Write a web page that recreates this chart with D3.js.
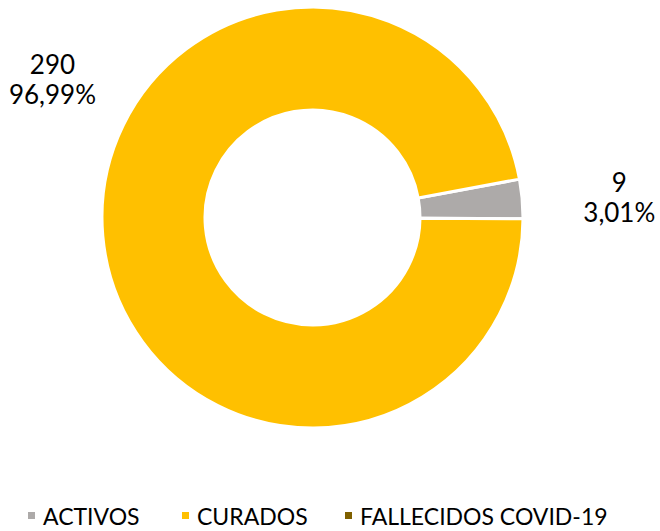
<!DOCTYPE html>
<html lang="es">
<head>
<meta charset="UTF-8">
<title>Casos COVID-19</title>
<script src="https://cdn.jsdelivr.net/npm/d3@7"></script>
<style>
    body { margin: 0; background: #fff; }
    #grafico { width: 660px; height: 531px; }
    .etiqueta { font-family: Lato, 'Open Sans', sans-serif; font-size: 26px; fill: #000; }
    .leyenda { font-family: Lato, 'Open Sans', sans-serif; font-size: 23px; fill: #000; }
</style>
</head>
<body>
<div id="grafico"></div>
<script>
var categorias = ["ACTIVOS", "CURADOS", "FALLECIDOS COVID-19"];
var valores = [9, 290, 0];
var colores = ["#ADAAA9", "#FFC000", "#7F6000"];

var w = 660, h = 531;
var cx = 312.5, cy = 217.5;
var rOut = 210.5, rIn = 107.5;
var anguloInicio = 79.5 * Math.PI / 180;

var total = d3.sum(valores);
var formato = function (v) {
    return d3.format(".2f")(v / total * 100).replace(".", ",") + "%";
};

var svg = d3.select("#grafico").append("svg")
    .attr("width", w)
    .attr("height", h);

var pie = d3.pie()
    .sort(null)
    .value(function (d) { return d; })
    .startAngle(anguloInicio)
    .endAngle(anguloInicio + 2 * Math.PI);

var arco = d3.arc().innerRadius(rIn).outerRadius(rOut);

var g = svg.append("g").attr("transform", "translate(" + cx + "," + cy + ")");

var datos = pie(valores);

g.selectAll("path")
    .data(datos.filter(function (d) { return d.value > 0; }))
    .enter()
    .append("path")
    .attr("d", arco)
    .attr("fill", function (d) { return colores[d.index]; })
    .attr("stroke", "#fff")
    .attr("stroke-width", 3);

// posiciones de etiquetas (Excel mueve la de CURADOS arriba a la izquierda)
var anguloEtiqueta = [null, -62.2 * Math.PI / 180, null];
var radioEtiqueta = [308, 294, null];
var ajusteY = [2, -6, 0];

datos.forEach(function (d, i) {
    if (d.value <= 0) return;
    var a = anguloEtiqueta[i] !== null ? anguloEtiqueta[i] : (d.startAngle + d.endAngle) / 2;
    var r = radioEtiqueta[i];
    var x = Math.sin(a) * r, y = -Math.cos(a) * r;
    var t = g.append("text")
        .classed("etiqueta", true)
        .attr("text-anchor", "middle")
        .attr("x", x)
        .attr("y", y + ajusteY[i]);
    t.append("tspan").attr("x", x).text(d.value);
    t.append("tspan").attr("x", x).attr("dy", 30).text(formato(d.value));
});

// leyenda
var leyX = [28, 182, 345];
var ley = svg.selectAll(".itemLey")
    .data(categorias)
    .enter()
    .append("g")
    .attr("transform", function (d, i) { return "translate(" + leyX[i] + ",525)"; });

ley.append("rect")
    .attr("x", 0)
    .attr("y", -13)
    .attr("width", 7)
    .attr("height", 7)
    .attr("fill", function (d, i) { return colores[i]; });

ley.append("text")
    .classed("leyenda", true)
    .attr("x", 15)
    .attr("y", 0)
    .text(function (d) { return d; });
</script>
</body>
</html>
